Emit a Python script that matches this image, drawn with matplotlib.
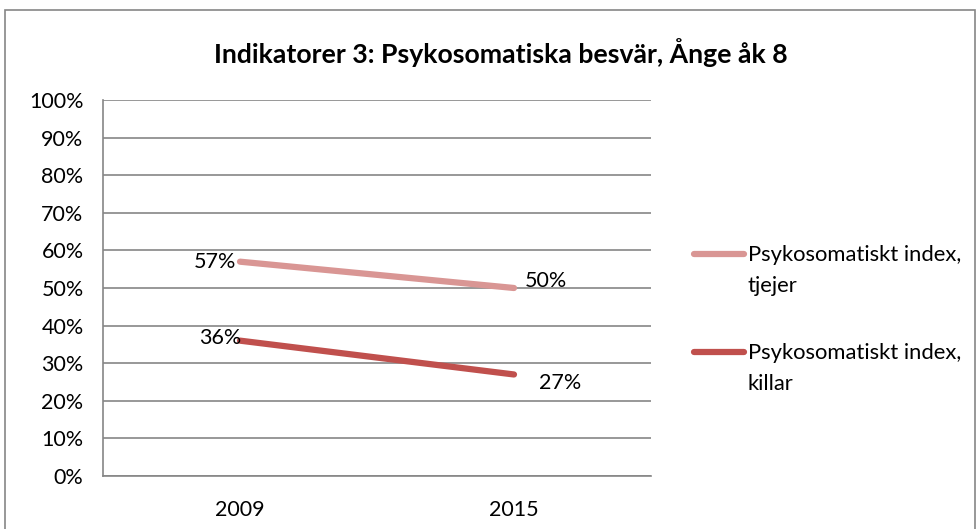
import matplotlib
matplotlib.use("Agg")
import matplotlib.pyplot as plt
from matplotlib.patches import Rectangle
from matplotlib.lines import Line2D

categories = ["2009", "2015"]
tjejer = [57, 50]
killar = [36, 27]
series_names = ["Psykosomatiskt index,\ntjejer", "Psykosomatiskt index,\nkillar"]
title = "Indikatorer 3: Psykosomatiska besvär, Ånge åk 8"
yticks = list(range(0, 101, 10))

plt.rcParams['font.family'] = ['Lato', 'DejaVu Sans']

W, H = 979, 529
fig = plt.figure(figsize=(W / 100, H / 100), dpi=100)

# outer chart border
fig.patches.append(Rectangle((5 / W, -0.05), (975 - 5) / W, (H - 10) / H + 0.05,
                             transform=fig.transFigure, fill=False,
                             edgecolor="#868686", linewidth=1.2))

ax = fig.add_axes([103 / W, (H - 476) / H, (651 - 103) / W, (476 - 100) / H])
x = [0, 1]
c_t = "#D99694"
c_k = "#C0504D"
l1, = ax.plot(x, tjejer, color=c_t, linewidth=4.5, solid_capstyle="round")
l2, = ax.plot(x, killar, color=c_k, linewidth=4.5, solid_capstyle="round")

FS = 15.5
ax.set_xlim(-0.5, 1.5)
ax.set_ylim(0, 100)
ax.set_yticks(yticks)
ax.set_yticklabels([f"{v}%" for v in yticks], fontsize=FS)
ax.set_xticks(x)
ax.set_xticklabels(categories, fontsize=FS)
ax.tick_params(axis="y", length=0, pad=14)
ax.tick_params(axis="x", length=0, pad=17)
ax.grid(axis="y", color="#868686", linewidth=1.2)
ax.set_axisbelow(True)
for s in ["top", "right"]:
    ax.spines[s].set_visible(False)
for s in ["left", "bottom"]:
    ax.spines[s].set_color("#868686")
    ax.spines[s].set_linewidth(1.2)

# data labels
ax.annotate(f"{tjejer[0]}%", (x[0], tjejer[0]), xytext=(-3, 0), textcoords="offset points",
            ha="right", va="center", fontsize=FS)
ax.annotate(f"{tjejer[1]}%", (x[1], tjejer[1]), xytext=(8, 5), textcoords="offset points",
            ha="left", va="center", fontsize=FS)
ax.annotate(f"{killar[0]}%", (x[0], killar[0]), xytext=(1, 2), textcoords="offset points",
            ha="right", va="center", fontsize=FS)
ax.annotate(f"{killar[1]}%", (x[1], killar[1]), xytext=(18, -6), textcoords="offset points",
            ha="left", va="center", fontsize=FS)

fig.text(501 / W, 1 - 53 / H, title, ha="center", va="center", fontsize=19.2, fontweight="bold")

# legend (manual layout to match multi-line entry alignment)
handles_y = [254, 352]
for name, color, yy in zip(series_names, [c_t, c_k], handles_y):
    fig.add_artist(Line2D([694 / W, 744 / W], [1 - yy / H, 1 - yy / H],
                          transform=fig.transFigure, color=color,
                          linewidth=4.5, solid_capstyle="round"))
    fig.text(748 / W, 1 - (yy - 9) / H, name, ha="left", va="top",
             fontsize=15.8, linespacing=1.7)

fig.savefig("out.png", dpi=100)
